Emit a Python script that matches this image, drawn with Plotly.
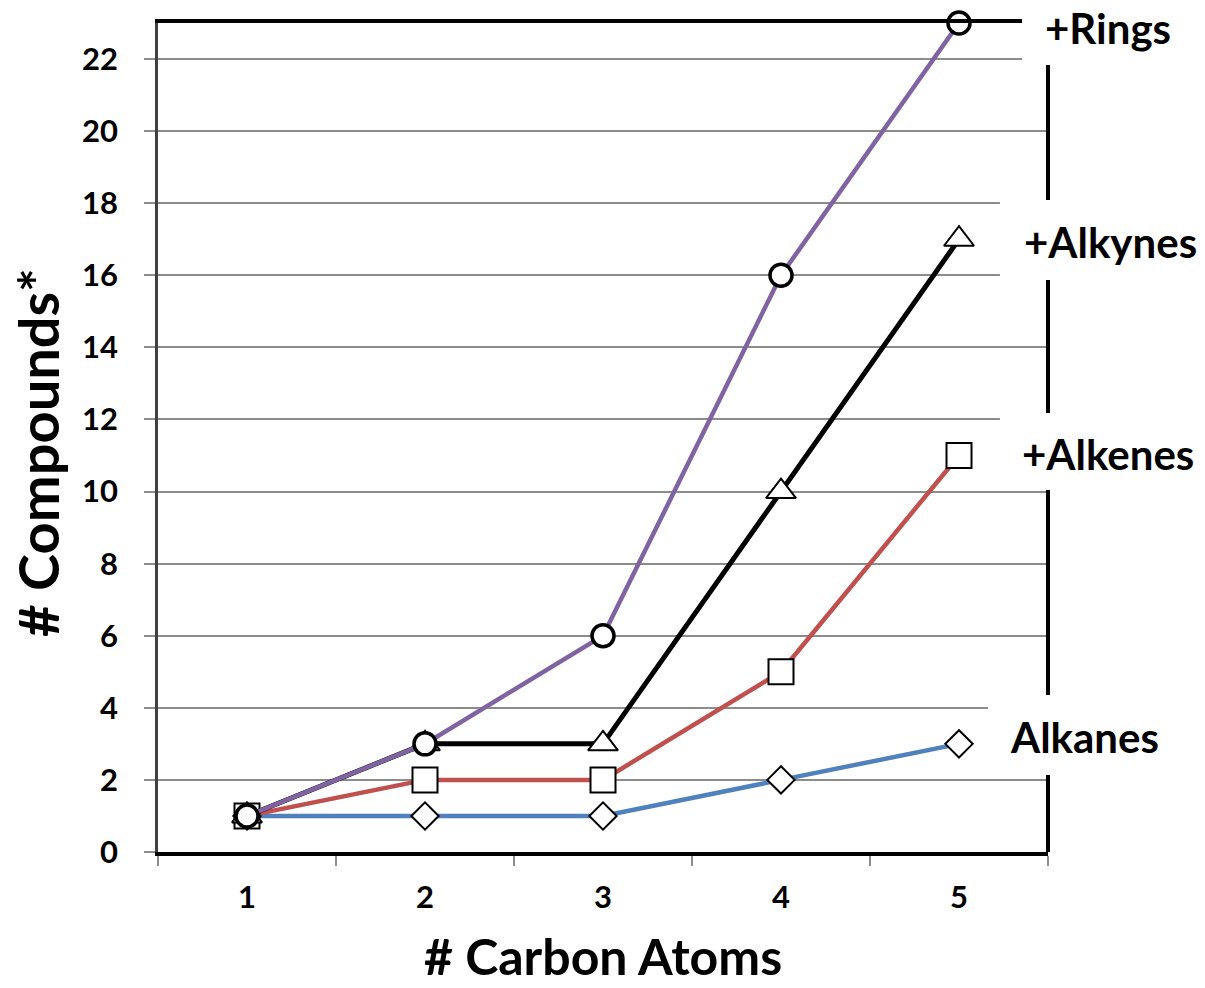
import plotly.graph_objects as go

carbon_atoms = ["1", "2", "3", "4", "5"]
alkanes = [1, 1, 1, 2, 3]
alkenes = [1, 2, 2, 5, 11]
alkynes = [1, 3, 3, 10, 17]
rings = [1, 3, 6, 16, 23]
y_ticks = list(range(0, 23, 2))

series = [
    ("Alkanes", alkanes, "#4F81BD", "diamond", 21, 4.5),
    ("+Alkenes", alkenes, "#C0504D", "square", 25, 4.5),
    ("+Alkynes", alkynes, "#000000", "triangle-up", 26, 5),
    ("+Rings", rings, "#8064A2", "circle", 22, 4.5),
]

FONT = "Lato"
fig = go.Figure()
for name, vals, color, sym, size, lw in series:
    fig.add_trace(go.Scatter(
        x=carbon_atoms, y=vals, name=name, mode="lines+markers",
        line=dict(color=color, width=lw),
        marker=dict(symbol=sym, size=size, color="white",
                    line=dict(color="black", width=3.5 if sym == "circle" else 2)),
        cliponaxis=False, showlegend=False,
    ))

fig.update_layout(
    width=1205, height=988,
    margin=dict(l=158, r=157, t=23, b=136),
    paper_bgcolor="white", plot_bgcolor="white",
    font=dict(family=FONT, color="black"),
    xaxis=dict(
        type="category", range=[-0.5, 4.5], tickson="boundaries",
        ticks="outside", ticklen=10,
        tickwidth=1.5, tickcolor="#8c8c8c", showgrid=False,
        showline=True, linecolor="black", linewidth=3.5, mirror=True,
        tickfont=dict(family=FONT, size=31, weight=700),
        ticklabelstandoff=15,
    ),
    yaxis=dict(
        range=[0, 23], tickvals=y_ticks, ticks="outside", ticklen=11,
        tickwidth=1.5, tickcolor="#8c8c8c", showgrid=True,
        gridcolor="#8c8c8c", gridwidth=1.5, zeroline=False,
        showline=True, linecolor="#404040", linewidth=2.5,
        tickfont=dict(family=FONT, size=31, weight=700),
        ticklabelstandoff=20,
    ),
)

# right frame line
fig.add_shape(type="line", xref="paper", yref="paper", x0=1, x1=1, y0=0, y1=1,
              line=dict(color="black", width=4), layer="above")
# white boxes behind the series labels
boxes = [(0.9708, 0.9493, 1.1), (0.946, 0.69, 0.7865),
         (0.946, 0.4367, 0.5296), (0.9326, 0.0929, 0.1894)]
for x0, y0, y1 in boxes:
    fig.add_shape(type="rect", xref="paper", yref="paper", x0=x0, x1=1.2,
                  y0=y0, y1=y1, fillcolor="white", line=dict(width=0),
                  layer="above")

labels = [("+Rings", 0.9944, 0.994), ("+Alkynes", 0.9708, 0.7358),
          ("+Alkenes", 0.9685, 0.4801), ("Alkanes", 0.955, 0.1387)]
for text, x, y in labels:
    fig.add_annotation(text=text, xref="paper", yref="paper", x=x, y=y,
                       xanchor="left", yanchor="middle", showarrow=False,
                       font=dict(family=FONT, size=42, weight=700))

fig.add_annotation(text="# Carbon Atoms", xref="paper", yref="paper",
                   x=0.5, y=-0.1625, xanchor="center", yanchor="bottom",
                   borderpad=0, showarrow=False,
                   font=dict(family=FONT, size=50, weight=700))
fig.add_annotation(text="# Compounds*", xref="paper", yref="paper",
                   x=-0.136, y=0.4825, xanchor="center", yanchor="middle",
                   textangle=-90, showarrow=False,
                   font=dict(family=FONT, size=56, weight=700))

fig.write_html("out.html", config={"displayModeBar": False},
               post_script="document.body.style.margin='0';document.body.style.overflow='hidden';")
